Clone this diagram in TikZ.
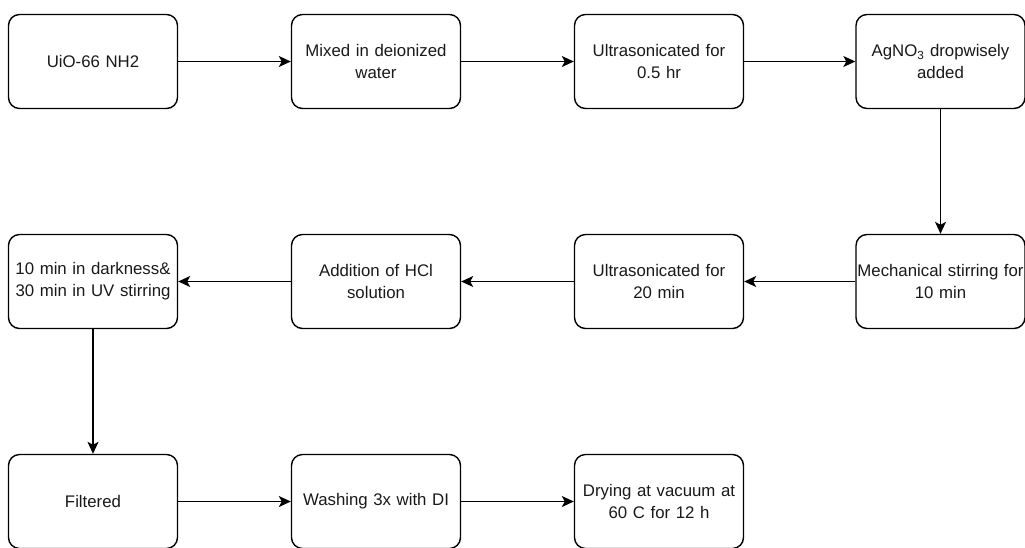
\documentclass[tikz,border=0pt]{standalone}
\usepackage{fontspec}
\setmainfont{Liberation Sans}
\usetikzlibrary{arrows.meta}
\begin{document}
\begin{tikzpicture}[x=1pt,y=-1pt,
  stepbox/.style={draw=black, line width=1.4pt, rounded corners=11pt,
    minimum width=169pt, minimum height=94pt, text width=168pt, align=center,
    inner sep=0pt, font=\fontsize{16.8}{22}\selectfont, text=black!90},
  flow/.style={draw=black, line width=1.4pt,
    -{Stealth[length=12pt,width=11pt,inset=3pt]}}]
\useasboundingbox (0,0) rectangle (1025,547);
% row 1
\node[stepbox] (a1) at (93,61.5) {UiO-66 NH2};
\node[stepbox] (a2) at (376,61.5) {Mixed in deionized\\water};
\node[stepbox] (a3) at (659,61.5) {Ultrasonicated for\\0.5 hr};
\node[stepbox] (a4) at (940.5,61.5) {AgNO\textsubscript{3} dropwisely\\added};
% row 2
\node[stepbox] (b4) at (940.5,281.5) {Mechanical stirring for\\10 min};
\node[stepbox] (b3) at (659,281.5) {Ultrasonicated for\\20 min};
\node[stepbox] (b2) at (376,281.5) {Addition of HCl\\solution};
\node[stepbox] (b1) at (93,281.5) {10 min in darkness\&\\30 min in UV stirring};
% row 3
\node[stepbox] (c1) at (93,501.5) {Filtered};
\node[stepbox] (c2) at (376,501.5) {Washing 3x with DI};
\node[stepbox] (c3) at (659,501.5) {Drying at vacuum at\\60 C for 12 h};
% connectors
\draw[flow] (a1) -- (a2);
\draw[flow] (a2) -- (a3);
\draw[flow] (a3) -- (a4);
\draw[flow] (a4) -- (b4);
\draw[flow] (b4) -- (b3);
\draw[flow] (b3) -- (b2);
\draw[flow] (b2) -- (b1);
\draw[flow] (b1) -- (c1);
\draw[flow] (c1) -- (c2);
\draw[flow] (c2) -- (c3);
\end{tikzpicture}
\end{document}
